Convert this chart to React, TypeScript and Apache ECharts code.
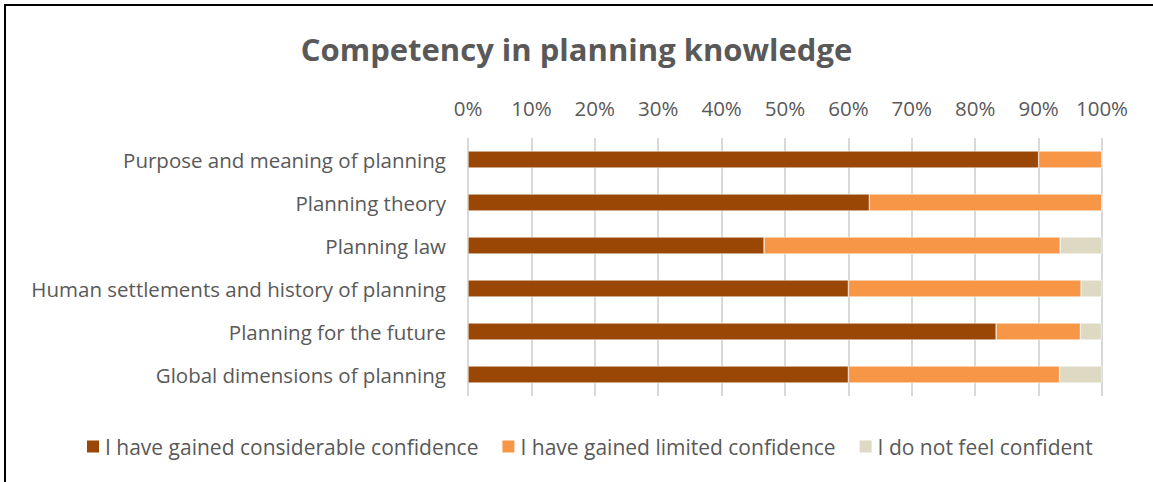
import React, { useEffect, useRef } from "react";
import * as echarts from "echarts";

const categories = [
  "Purpose and meaning of planning",
  "Planning theory",
  "Planning law",
  "Human settlements and history of planning",
  "Planning for the future",
  "Global dimensions of planning",
];
const considerable = [90.0, 63.3, 46.7, 60.0, 83.3, 60.0];
const limited = [10.0, 36.7, 46.7, 36.7, 13.3, 33.3];
const notConfident = [0.0, 0.0, 6.7, 3.3, 3.3, 6.7];
const seriesNames = [
  "I have gained considerable confidence",
  "I have gained limited confidence",
  "I do not feel confident",
];
const colors = ["#9A4706", "#F79646", "#DDD9C3"];

export default function App() {
  const ref = useRef<HTMLDivElement>(null);
  useEffect(() => {
    document.body.style.margin = "0";
    const chart = echarts.init(ref.current!, null, { renderer: "svg" });
    const font = "'Open Sans', sans-serif";
    const data = [considerable, limited, notConfident];
    chart.setOption({
      animation: false,
      textStyle: { fontFamily: font },
      title: {
        text: "Competency in planning knowledge",
        left: "center",
        top: 28,
        itemGap: 0,
        textStyle: { fontSize: 31, fontWeight: "bold", color: "#595959", fontFamily: font },
      },
      grid: { left: 468, right: 51, top: 138, height: 258 },
      xAxis: {
        type: "value",
        position: "top",
        min: 0,
        max: 100,
        interval: 10,
        axisLabel: { formatter: "{value}%", color: "#595959", fontSize: 20.5, margin: 20, fontFamily: font },
        axisLine: { show: false },
        axisTick: { show: false },
        splitLine: { lineStyle: { color: "#D9D9D9", width: 2 } },
      },
      yAxis: {
        type: "category",
        data: categories,
        inverse: true,
        axisLine: { show: false },
        axisTick: { show: false },
        axisLabel: { color: "#595959", fontSize: 20.5, margin: 22, fontFamily: font },
      },
      legend: {
        top: 431,
        left: 80,
        padding: [5, 5],
        itemWidth: 14,
        itemHeight: 14,
        itemGap: 22,
        icon: "rect",
        textStyle: { color: "#595959", fontSize: 21, fontFamily: font },
        data: seriesNames,
      },
      series: seriesNames.map((name, i) => ({
        name,
        type: "bar",
        stack: "total",
        barWidth: 17,
        data: data[i],
        itemStyle: { color: colors[i], borderColor: "#ffffff", borderWidth: 0.5 },
      })),
      graphic: [
        {
          type: "polyline",
          shape: { points: [[5, 482], [5, 5], [1153, 5]] },
          style: { stroke: "#000", lineWidth: 2, fill: "none" },
        },
      ],
    });
    return () => chart.dispose();
  }, []);
  return <div ref={ref} style={{ width: 1153, height: 482 }} />;
}
